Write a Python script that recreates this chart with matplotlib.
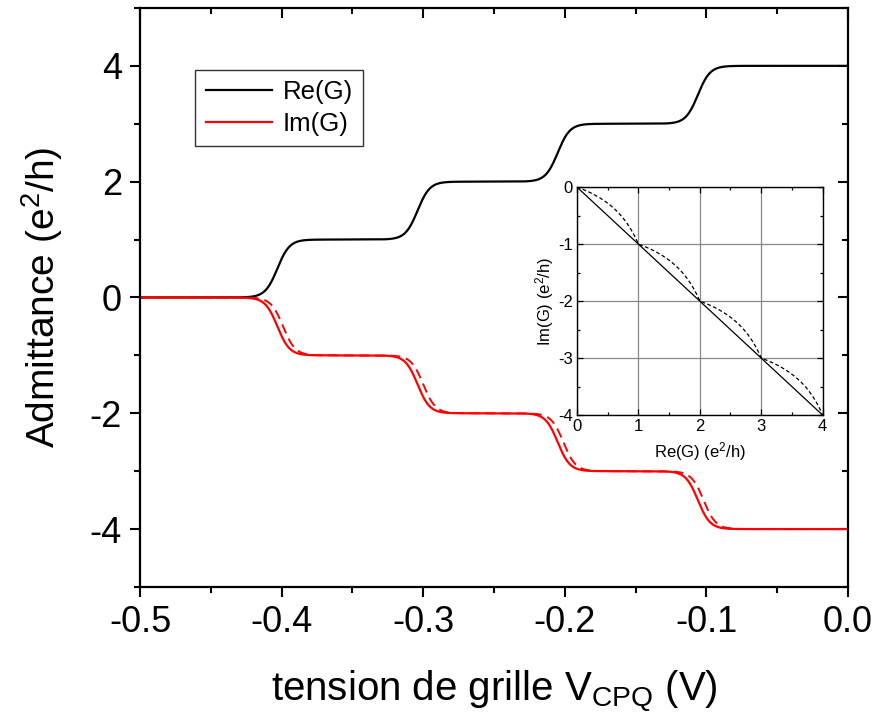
import numpy as np
import matplotlib
matplotlib.use("Agg")
import matplotlib.pyplot as plt
from matplotlib.ticker import MultipleLocator, FormatStrFormatter
from matplotlib import lines as mlines

plt.rcParams['font.family'] = ['Liberation Sans', 'DejaVu Sans']
plt.rcParams['mathtext.fontset'] = 'custom'
plt.rcParams['mathtext.rm'] = 'Liberation Sans'
plt.rcParams['mathtext.it'] = 'Liberation Sans:italic'
plt.rcParams['axes.unicode_minus'] = False

# Gate voltages at which each conduction channel opens (V)
step_centers = [-0.403, -0.304, -0.205, -0.106]
# Broadening of each conductance step (V)
step_width = 0.0043
# Lag of the dashed Im(G) trace behind the ideal one (V)
im_delay = 0.004
# Sweep range of the gate voltage (V)
v_range = [-0.5, 0.0]

legend_labels = ["Re(G)", "Im(G)"]


def channel_sum(v, shift=0.0):
    """Number of open channels, each channel opening as a Fermi step."""
    total = np.zeros_like(v)
    for vc in step_centers:
        total += 1.0 / (1.0 + np.exp(-(v - vc - shift) / step_width))
    return total


v = np.linspace(v_range[0], v_range[1], 2001)
re_g = channel_sum(v)
im_g = -channel_sum(v)
im_g_lag = -channel_sum(v, im_delay)

fig = plt.figure(figsize=(8.78, 7.22), dpi=100)
ax = fig.add_axes([0.1595, 0.187, 0.8063, 0.802])

ax.plot(v, re_g, color='black', lw=1.6, label=legend_labels[0])
ax.plot(v, im_g, color='red', lw=1.6, label=legend_labels[1])
ax.plot(v, im_g_lag, color='red', lw=1.4, ls=(0, (5, 3)))

ax.set_xlim(-0.5, 0.0)
ax.set_ylim(-5, 5)
ax.xaxis.set_major_locator(MultipleLocator(0.1))
ax.xaxis.set_minor_locator(MultipleLocator(0.05))
ax.yaxis.set_major_locator(MultipleLocator(2))
ax.yaxis.set_minor_locator(MultipleLocator(1))
ax.xaxis.set_major_formatter(FormatStrFormatter('%.1f'))

for s in ax.spines.values():
    s.set_linewidth(1.6)

ax.tick_params(which='both', direction='out', left=True, bottom=True,
               right=True, top=True, width=1.5)
ax.tick_params(which='major', length=7, labelsize=26, pad=6)
ax.tick_params(which='minor', length=4)
# mirrored ticks on the right and top point inward
for t in ax.yaxis.get_major_ticks() + ax.yaxis.get_minor_ticks():
    t.tick2line.set_marker(mlines.TICKLEFT)
for t in ax.xaxis.get_major_ticks() + ax.xaxis.get_minor_ticks():
    t.tick2line.set_marker(mlines.TICKDOWN)

ax.set_xlabel('tension de grille V$_{\\mathrm{CPQ}}$ (V)', fontsize=29,
              labelpad=20)
ax.set_ylabel('Admittance (e$^{2}$/h)', fontsize=28, labelpad=18)

leg = ax.legend(loc='upper left', bbox_to_anchor=(0.078, 0.893),
                borderaxespad=0, fontsize=18.5, frameon=True, fancybox=False,
                edgecolor='black', handlelength=2.6, handletextpad=0.4,
                borderpad=0.4, labelspacing=0.3)
leg.get_frame().set_linewidth(1.0)

# Inset: Im(G) against Re(G)
axi = fig.add_axes([0.657, 0.425, 0.280, 0.316])
axi.plot(re_g, im_g, color='black', lw=0.9)
axi.plot(re_g, im_g_lag, color='black', lw=0.9, ls=(0, (3, 2)))
axi.set_xlim(0, 4)
axi.set_ylim(-4, 0)
axi.xaxis.set_major_locator(MultipleLocator(1))
axi.xaxis.set_minor_locator(MultipleLocator(0.5))
axi.yaxis.set_major_locator(MultipleLocator(1))
axi.yaxis.set_minor_locator(MultipleLocator(0.5))
axi.grid(True, which='major', color='#888888', lw=0.9)
axi.set_axisbelow(True)
for s in axi.spines.values():
    s.set_linewidth(1.0)
axi.tick_params(which='both', direction='in', top=True, right=True,
                width=0.9, labelsize=12, pad=3)
axi.tick_params(which='major', length=4)
axi.tick_params(which='minor', length=2.5)
axi.set_xlabel('Re(G) (e$^{2}$/h)', fontsize=12, labelpad=4)
axi.set_ylabel('Im(G) (e$^{2}$/h)', fontsize=12, labelpad=1)

fig.savefig('out.png', dpi=100)
